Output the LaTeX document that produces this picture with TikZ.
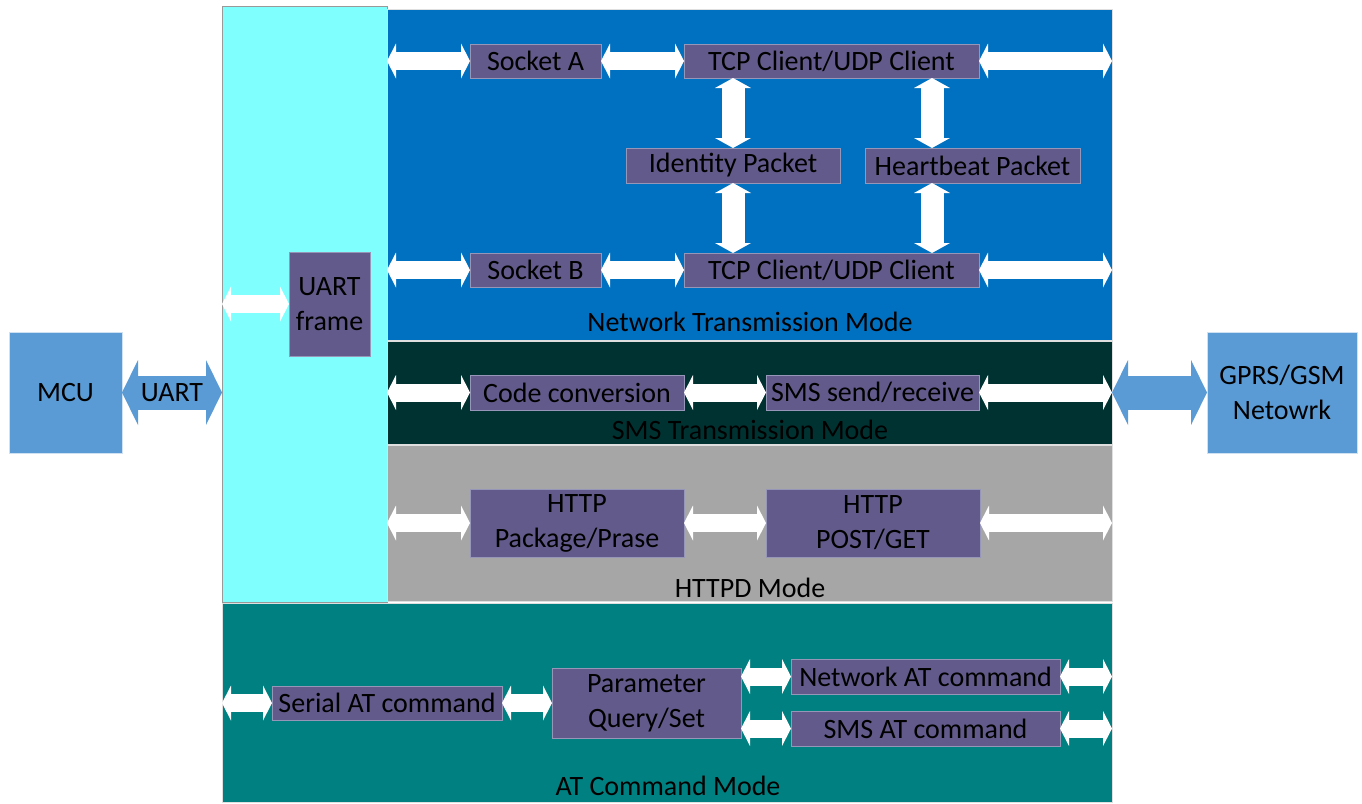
\documentclass[tikz,border=0pt]{standalone}
\usepackage{fontspec}
\setmainfont{Carlito}
\usepackage{tikz}
\usetikzlibrary{positioning,arrows.meta}

\definecolor{mcublue}{RGB}{91,155,213}
\definecolor{netblue}{RGB}{0,112,192}
\definecolor{smsdark}{RGB}{0,50,50}
\definecolor{httpgray}{RGB}{166,166,166}
\definecolor{atteal}{RGB}{0,128,128}
\definecolor{framecyan}{RGB}{128,255,255}
\definecolor{boxpurple}{RGB}{98,90,138}
\definecolor{boxedge}{RGB}{150,150,185}

\begin{document}
\begin{tikzpicture}[x=1pt, y=-1pt,
  every node/.style={font=\fontsize{28}{35}\selectfont, text=black, inner sep=0pt, outer sep=0pt},
  panel/.style={draw=white!75!gray, line width=0.8pt},
  blk/.style={draw=boxedge, line width=0.8pt, fill=boxpurple, align=center, minimum height=34pt},
  big/.style={draw=white!70!mcublue, line width=0.6pt, fill=mcublue, align=center, minimum height=121pt},
  warr/.style={white, line width=18pt,
    {Triangle[width=35pt,length=9pt,line width=0pt]}-{Triangle[width=35pt,length=9pt,line width=0pt]}},
  varr/.style={white, line width=23pt,
    {Triangle[width=36pt,length=10pt,line width=0pt]}-{Triangle[width=36pt,length=10pt,line width=0pt]}},
  barr/.style={mcublue, line width=34pt,
    {Triangle[width=65pt,length=16pt,line width=0pt]}-{Triangle[width=65pt,length=16pt,line width=0pt]}}]

\useasboundingbox (0,0) rectangle (1362,803);

\node [panel, draw=gray!80, fill=framecyan, minimum width=165pt, minimum height=596pt] (cyan) at (304.5,304) {};
\node [panel, fill=netblue, minimum width=725pt, minimum height=331pt] (net) at (749.5,174.5) {};
\node [panel, fill=smsdark, minimum width=725pt, minimum height=103pt] (sms) at (749.5,392.5) {};
\node [panel, fill=httpgray, minimum width=725pt, minimum height=156pt] (http) at (749.5,523) {};
\node [panel, fill=atteal, minimum width=890pt, minimum height=199pt] (at) at (667,702.5) {};

\node at (750,322) {Network Transmission Mode};
\node at (750,430) {SMS Transmission Mode};
\node at (750,588) {HTTPD Mode};
\node [anchor=base] at (668,795) {AT Command Mode};

\node [big, minimum width=113pt] (mcu) at (65.5,392.5) {MCU};
\node [big, minimum width=150pt] (gsm) at (1282,392.5) {GPRS/GSM\\Netowrk};

\node [blk, minimum width=81pt, minimum height=104pt] (uartf) at (329.5,304) {UART\\frame};

\node [blk, minimum width=131pt] (sockA) at (535.5,61) {Socket A};
\node [blk, minimum width=295pt] (tcpA) at (831.5,61) {TCP Client/UDP Client};
\node [blk, minimum width=214pt, minimum height=35pt] (idp) at (733,165.5) {Identity Packet};
\node [blk, minimum width=215pt, minimum height=35pt] (hbp) at (972.5,165.5) {Heartbeat Packet};
\node [blk, minimum width=131pt] (sockB) at (535.5,270) {Socket B};
\node [blk, minimum width=295pt] (tcpB) at (831.5,270) {TCP Client/UDP Client};

\node [blk, minimum width=214pt, minimum height=35pt] (codec) at (577,392.5) {Code conversion};
\node [blk, minimum width=213pt, minimum height=35pt] (smsx) at (872.5,392.5) {SMS send/receive};

\node [blk, minimum width=214pt, minimum height=68pt] (httpp) at (577,523) {HTTP\\Package/Prase};
\node [blk, minimum width=214pt, minimum height=68pt] (httpg) at (873,523) {HTTP\\POST/GET};

\node [blk, minimum width=230pt] (serat) at (387,703) {Serial AT command};
\node [blk, minimum width=189pt, minimum height=70pt] (param) at (646.5,703) {Parameter\\Query/Set};
\node [blk, minimum width=269pt, minimum height=35pt] (netat) at (925.5,676.5) {Network AT command};
\node [blk, minimum width=269pt, minimum height=35pt] (smsat) at (925.5,728.5) {SMS AT command};

\coordinate (hbx) at (932,0);

\draw [barr] (mcu) -- (mcu -| cyan.west) node [midway] {UART};
\draw [barr] (gsm -| sms.east) -- (gsm);

\draw [warr] (uartf -| cyan.west) -- (uartf);
\draw [warr] (serat -| at.west) -- (serat);

\foreach \n/\p in {sockA/net, sockB/net, codec/sms, httpp/http}
  \draw [warr] (\n -| \p.west) -- (\n);

\foreach \a/\b in {sockA/tcpA, sockB/tcpB, codec/smsx, httpp/httpg, serat/param}
  \draw [warr] (\a) -- (\b);

\foreach \n/\p in {tcpA/net, tcpB/net, smsx/sms, httpg/http, netat/at, smsat/at}
  \draw [warr] (\n) -- (\n -| \p.east);

\foreach \n in {netat, smsat}
  \draw [warr] (param.east |- \n) -- (\n);

\draw [varr] (tcpA.south -| idp) -- (idp);
\draw [varr] (idp) -- (tcpB.north -| idp);
\draw [varr] (tcpA.south -| hbx) -- (hbp.north -| hbx);
\draw [varr] (hbp.south -| hbx) -- (tcpB.north -| hbx);

\end{tikzpicture}
\end{document}
